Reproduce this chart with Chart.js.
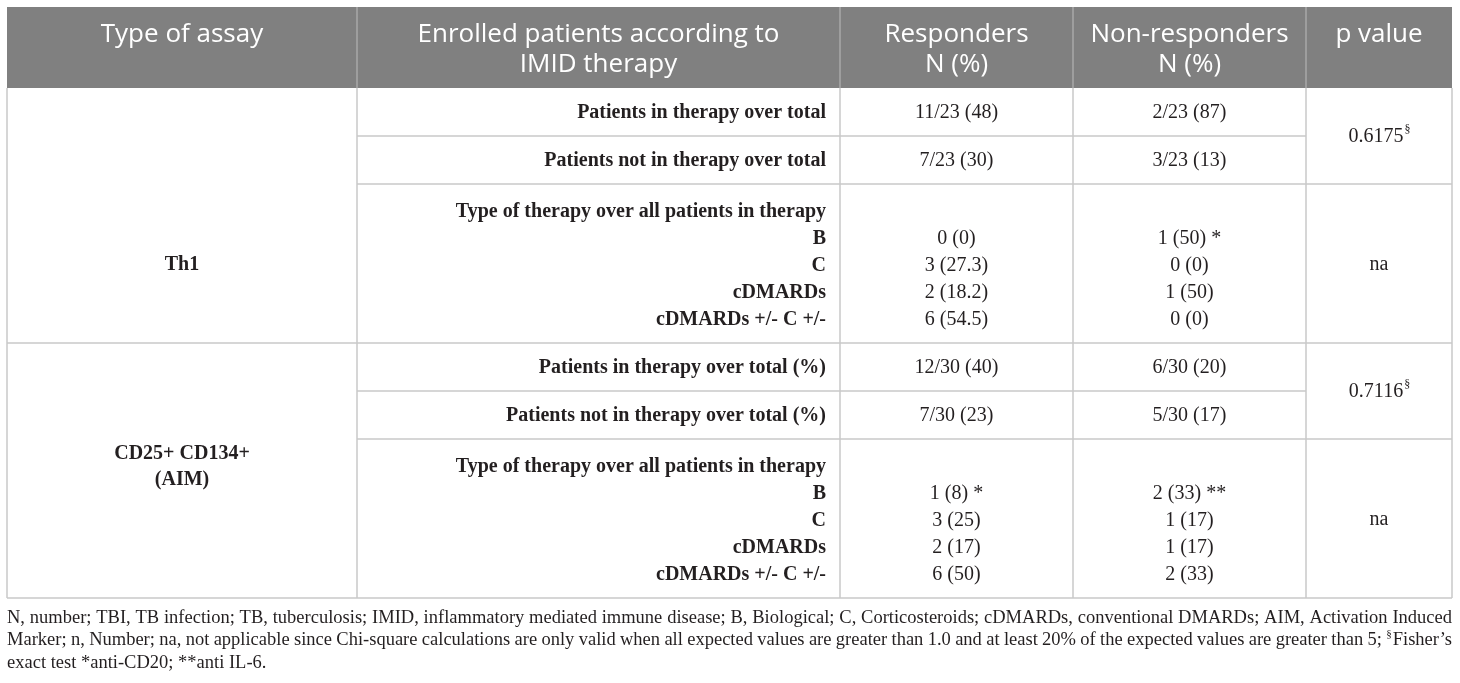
<!DOCTYPE html>
<html>
<head>
<meta charset="utf-8">
<title>Responders vs non-responders by IMID therapy</title>
<script src="https://cdn.jsdelivr.net/npm/chart.js@4.4.1/dist/chart.umd.min.js"></script>
<style>
    html, body { margin: 0; padding: 0; background: #fff; }
    #wrap { width: 1460px; height: 683px; }
</style>
</head>
<body>
<div id="wrap"><canvas id="tableChart" width="1460" height="683"></canvas></div>
<script>
// --- Table content ---
const headers = ['Type of assay', 'Enrolled patients according to\nIMID therapy', 'Responders\nN (%)', 'Non-responders\nN (%)', 'p value'];
const assays = ['Th1', 'CD25+ CD134+\n(AIM)'];
const totalLabels = [
    ['Patients in therapy over total', 'Patients not in therapy over total'],
    ['Patients in therapy over total (%)', 'Patients not in therapy over total (%)']
];
const therapyHeading = 'Type of therapy over all patients in therapy';
const therapyTypes = ['B', 'C', 'cDMARDs', 'cDMARDs +/- C +/-'];
const respTotals = [['11/23 (48)', '7/23 (30)'], ['12/30 (40)', '7/30 (23)']];
const nonRespTotals = [['2/23 (87)', '3/23 (13)'], ['6/30 (20)', '5/30 (17)']];
const respTherapy = [['0 (0)', '3 (27.3)', '2 (18.2)', '6 (54.5)'], ['1 (8) *', '3 (25)', '2 (17)', '6 (50)']];
const nonRespTherapy = [['1 (50) *', '0 (0)', '1 (50)', '0 (0)'], ['2 (33) **', '1 (17)', '1 (17)', '2 (33)']];
const pTotals = ['0.6175', '0.7116'];
const pTherapy = ['na', 'na'];
const footnote = [
    'N, number; TBI, TB infection; TB, tuberculosis; IMID, inflammatory mediated immune disease; B, Biological; C, Corticosteroids; cDMARDs, conventional DMARDs; AIM, Activation Induced',
    'Marker; n, Number; na, not applicable since Chi-square calculations are only valid when all expected values are greater than 1.0 and at least 20% of the expected values are greater than 5; ^\u00a7Fisher\u2019s',
    'exact test *anti-CD20; **anti IL-6.'
];

// --- Layout (page units, mapped through the hidden scales) ---
const colEdges = [7, 357, 840, 1073, 1306, 1452];
const headTop = 7, headBottom = 88;
const blockRowHeights = [48, 48, 159];
const lineStep = 27;
const headLineStep = 30;
const assayLabelTop = [null, 15];   // null = vertically centred in therapy row
const footTop = 618, footStep = 22.5;
const bodySize = 20, footSize = 18.5, headSize = 26;

const SERIF = '"Liberation Serif", "DejaVu Serif", serif';
const SANS = '"Open Sans", "Noto Sans", sans-serif';
const ink = '#231f20';
const gridColor = '#c8c8c8';

const tablePlugin = {
    id: 'tablePlugin',
    afterDraw(chart) {
        const ctx = chart.ctx;
        const xs = chart.scales.x, ys = chart.scales.y;
        const X = v => xs.getPixelForValue(v);
        const Y = v => ys.getPixelForValue(v);
        const colMid = i => (colEdges[i] + colEdges[i + 1]) / 2;
        const serif = (s, bold) => (bold ? 'bold ' : '') + s + 'px ' + SERIF;

        function text(str, x, y, align, font, color) {
            ctx.font = font;
            ctx.fillStyle = color || ink;
            ctx.textAlign = align;
            ctx.textBaseline = 'middle';
            ctx.fillText(str, X(x), Y(y));
        }
        function textSup(str, sup, x, y, size) {
            const supSize = Math.round(size * 0.62);
            ctx.font = serif(size);
            const w1 = ctx.measureText(str).width;
            ctx.font = serif(supSize);
            const w2 = ctx.measureText(sup).width;
            const left = X(x) - (w1 + w2) / 2;
            ctx.fillStyle = ink;
            ctx.textAlign = 'left';
            ctx.textBaseline = 'middle';
            ctx.font = serif(size);
            ctx.fillText(str, left, Y(y));
            ctx.font = serif(supSize);
            ctx.fillText(sup, left + w1 + 1, Y(y) - size * 0.35);
        }
        function hline(x0, x1, y, color) {
            ctx.strokeStyle = color || gridColor;
            ctx.lineWidth = 1.5;
            ctx.beginPath();
            ctx.moveTo(X(x0), Y(y));
            ctx.lineTo(X(x1), Y(y));
            ctx.stroke();
        }
        function vline(x, y0, y1, color) {
            ctx.strokeStyle = color || gridColor;
            ctx.lineWidth = 1.5;
            ctx.beginPath();
            ctx.moveTo(X(x), Y(y0));
            ctx.lineTo(X(x), Y(y1));
            ctx.stroke();
        }

        ctx.save();

        // header band
        ctx.fillStyle = '#808080';
        ctx.fillRect(X(colEdges[0]), Y(headTop), X(colEdges[5]) - X(colEdges[0]), Y(headBottom) - Y(headTop));
        for (let i = 1; i < 5; i++) vline(colEdges[i], headTop, headBottom, '#a9a9a9');
        headers.forEach((h, i) => {
            h.split('\n').forEach((ln, k) => {
                text(ln, colMid(i), headTop + 28 + k * headLineStep, 'center', headSize + 'px ' + SANS, '#ffffff');
            });
        });

        // body blocks
        let top = headBottom;
        assays.forEach((assay, b) => {
            const r1 = top + blockRowHeights[0];
            const r2 = r1 + blockRowHeights[1];
            const r3 = r2 + blockRowHeights[2];

            // totals rows
            [top, r1].forEach((rt, k) => {
                const cy = rt + blockRowHeights[k] / 2 + 1;
                text(totalLabels[b][k], colEdges[2] - 14, cy, 'right', serif(bodySize, true));
                text(respTotals[b][k], colMid(2), cy, 'center', serif(bodySize));
                text(nonRespTotals[b][k], colMid(3), cy, 'center', serif(bodySize));
            });
            textSup(pTotals[b], '\u00a7', colMid(4), r1 + 1, bodySize);

            // therapy row
            const lines = [therapyHeading].concat(therapyTypes);
            const first = (r2 + r3) / 2 + 2 - lineStep * (lines.length - 1) / 2;
            lines.forEach((ln, k) => {
                const cy = first + k * lineStep;
                text(ln, colEdges[2] - 14, cy, 'right', serif(bodySize, true));
                if (k > 0) {
                    text(respTherapy[b][k - 1], colMid(2), cy, 'center', serif(bodySize));
                    text(nonRespTherapy[b][k - 1], colMid(3), cy, 'center', serif(bodySize));
                }
            });
            text(pTherapy[b], colMid(4), (r2 + r3) / 2 + 1, 'center', serif(bodySize));

            // assay label
            const aLines = assay.split('\n');
            const aFirst = assayLabelTop[b] === null
                ? (r2 + r3) / 2 + 1 - 26 * (aLines.length - 1) / 2
                : r2 + assayLabelTop[b];
            aLines.forEach((ln, k) => text(ln, colMid(0), aFirst + k * 26, 'center', serif(bodySize, true)));

            // grid
            hline(colEdges[1], colEdges[4], r1);
            hline(colEdges[1], colEdges[5], r2);
            hline(colEdges[0], colEdges[5], r3);
            vline(colEdges[0], top, r3);
            for (let i = 1; i < 6; i++) vline(colEdges[i], top, r3);
            top = r3;
        });

        // footnote (first two lines justified)
        footnote.forEach((ln, k) => {
            const size = footSize;
            const supSize = Math.round(size * 0.62);
            const y = Y(footTop + k * footStep);
            const words = ln.split(' ');
            const widths = words.map(w => {
                if (w.startsWith('^')) {
                    ctx.font = serif(supSize);
                    const s = ctx.measureText(w[1]).width;
                    ctx.font = serif(size);
                    return s + 1 + ctx.measureText(w.slice(2)).width;
                }
                ctx.font = serif(size);
                return ctx.measureText(w).width;
            });
            ctx.font = serif(size);
            const space = ctx.measureText(' ').width;
            const total = widths.reduce((a, c) => a + c, 0);
            const avail = X(colEdges[5]) - X(colEdges[0]);
            const gap = k < 2 ? (avail - total) / (words.length - 1) : space;
            let x = X(colEdges[0]);
            ctx.fillStyle = ink;
            ctx.textAlign = 'left';
            ctx.textBaseline = 'middle';
            words.forEach((w, i) => {
                if (w.startsWith('^')) {
                    ctx.font = serif(supSize);
                    ctx.fillText(w[1], x, y - size * 0.35);
                    const s = ctx.measureText(w[1]).width + 1;
                    ctx.font = serif(size);
                    ctx.fillText(w.slice(2), x + s, y);
                } else {
                    ctx.font = serif(size);
                    ctx.fillText(w, x, y);
                }
                x += widths[i] + gap;
            });
        });
        ctx.restore();
    }
};

new Chart(document.getElementById('tableChart'), {
    type: 'scatter',
    data: { datasets: [{ data: [], pointRadius: 0 }] },
    options: {
        responsive: false,
        animation: false,
        devicePixelRatio: 1,
        layout: { padding: 0 },
        plugins: { legend: { display: false }, tooltip: { enabled: false } },
        scales: {
            x: { type: 'linear', min: 0, max: 1460, display: false },
            y: { type: 'linear', min: 0, max: 683, reverse: true, display: false }
        }
    },
    plugins: [tablePlugin]
});
</script>
</body>
</html>
